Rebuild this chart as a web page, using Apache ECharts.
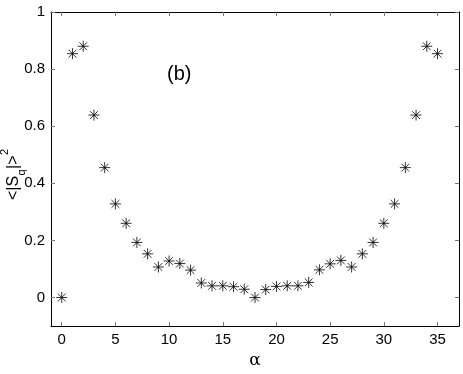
<!DOCTYPE html>
<html>
<head>
<meta charset="utf-8">
<script src="https://cdn.jsdelivr.net/npm/echarts@6/dist/echarts.min.js"></script>
<style>
  html, body { margin: 0; padding: 0; background: #fff; }
  #chart { width: 463px; height: 374px; }
</style>
</head>
<body>
<div id="chart"></div>
<script>
const alpha = [0, 1, 2, 3, 4, 5, 6, 7, 8, 9, 10, 11, 12, 13, 14, 15, 16, 17,
  18, 19, 20, 21, 22, 23, 24, 25, 26, 27, 28, 29, 30, 31, 32, 33, 34, 35]
const sq = [0, 0.854, 0.880, 0.639, 0.455, 0.328, 0.260, 0.193, 0.153, 0.107,
  0.128, 0.119, 0.096, 0.051, 0.041, 0.041, 0.038, 0.029, 0, 0.028,
  0.039, 0.041, 0.041, 0.053, 0.097, 0.118, 0.130, 0.107, 0.153, 0.193,
  0.260, 0.328, 0.455, 0.639, 0.880, 0.854]
const xTicks = [0, 5, 10, 15, 20, 25, 30, 35]
const yTicks = [0, 0.2, 0.4, 0.6, 0.8, 1]

const font = 'Liberation Sans, Arial, sans-serif'
const star = 'path://M5 0L5 10M0 5L10 5M1.46 1.46L8.54 8.54M1.46 8.54L8.54 1.46'

const chart = echarts.init(document.getElementById('chart'))

const xBase = {
  type: 'value',
  min: -1,
  max: 37,
  splitLine: { show: false },
  axisLine: { show: true, onZero: false, lineStyle: { color: '#000', width: 1 } },
  axisTick: { show: true, inside: true, length: 4, customValues: xTicks, lineStyle: { color: '#777' } }
}
const yBase = {
  type: 'value',
  min: -0.1,
  max: 1,
  splitLine: { show: false },
  axisLine: { show: true, onZero: false, lineStyle: { color: '#000', width: 1 } },
  axisTick: { show: true, inside: true, length: 4, customValues: yTicks, lineStyle: { color: '#777' } }
}

chart.setOption({
  animation: false,
  grid: { left: 51, top: 12, right: 4, bottom: 39 },
  xAxis: [
    Object.assign({}, xBase, {
      position: 'bottom',
      name: 'α',
      nameLocation: 'middle',
      nameGap: 20,
      nameTextStyle: { fontFamily: '"DejaVu Serif", "Liberation Serif", serif', fontSize: 17, color: '#000' },
      axisLabel: { customValues: xTicks, margin: 6, fontFamily: font, fontSize: 15, color: '#000' }
    }),
    Object.assign({}, xBase, { position: 'top', axisLabel: { show: false } })
  ],
  yAxis: [
    Object.assign({}, yBase, {
      position: 'left',
      axisLabel: { customValues: yTicks, margin: 6, fontFamily: font, fontSize: 15, color: '#000' }
    }),
    Object.assign({}, yBase, { position: 'right', axisLabel: { show: false } })
  ],
  graphic: [
    {
      type: 'text',
      left: 167,
      top: 64,
      style: { text: '(b)', fontFamily: font, fontSize: 20, fill: '#000' }
    },
    {
      // y axis label <|S_q|>^2, rotated
      type: 'group',
      x: 14,
      y: 200,
      rotation: Math.PI / 2,
      children: [
        { type: 'text', x: 0, y: 0, style: { text: '<|S', fontFamily: font, fontSize: 16, fill: '#000', verticalAlign: 'middle' } },
        { type: 'text', x: 24.5, y: 8, style: { text: 'q', fontFamily: font, fontSize: 11, fill: '#000', verticalAlign: 'middle' } },
        { type: 'text', x: 31, y: 0, style: { text: '|>', fontFamily: font, fontSize: 16, fill: '#000', verticalAlign: 'middle' } },
        { type: 'text', x: 45, y: -9, style: { text: '2', fontFamily: font, fontSize: 11, fill: '#000', verticalAlign: 'middle' } }
      ]
    }
  ],
  series: [{
    type: 'scatter',
    xAxisIndex: 0,
    yAxisIndex: 0,
    data: alpha.map((a, i) => [a, sq[i]]),
    symbol: star,
    symbolSize: 11,
    itemStyle: { color: 'transparent', borderColor: '#000', borderWidth: 1 }
  }]
})
</script>
</body>
</html>
